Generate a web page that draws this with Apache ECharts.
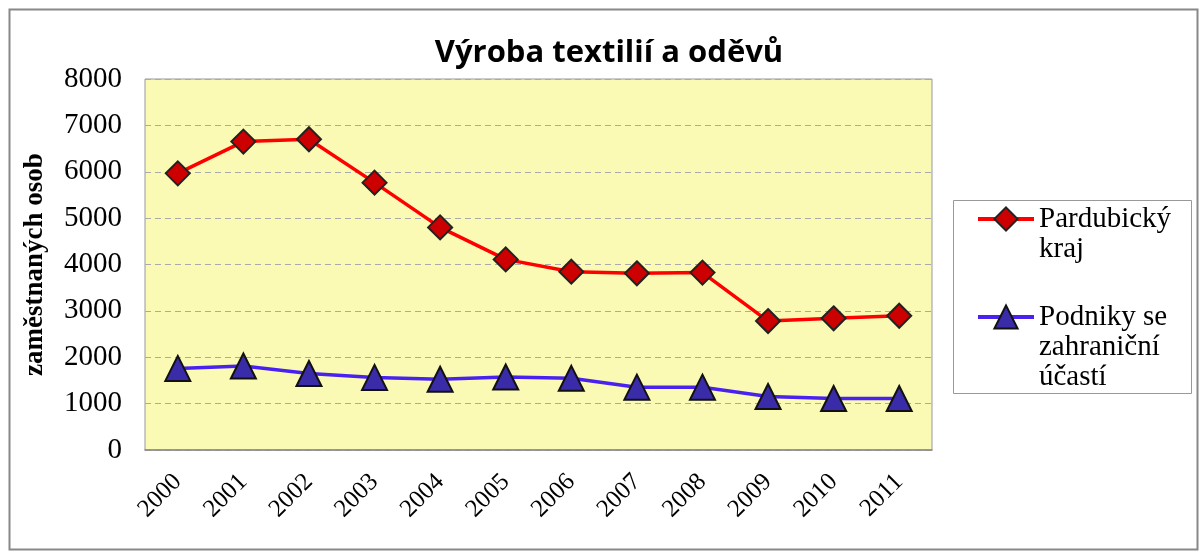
<!DOCTYPE html>
<html><head><meta charset="utf-8">
<script src="https://cdn.jsdelivr.net/npm/echarts@6/dist/echarts.min.js"></script>
<style>html,body{margin:0;padding:0;background:#fff}#c{width:1203px;height:553px}</style>
</head><body><div id="c"></div>
<script>
var years = ['2000','2001','2002','2003','2004','2005','2006','2007','2008','2009','2010','2011'];
var pardubicky = [5965, 6650, 6700, 5765, 4800, 4110, 3845, 3810, 3825, 2780, 2840, 2895];
var podniky = [1760, 1810, 1650, 1565, 1525, 1575, 1545, 1355, 1355, 1155, 1110, 1110];
var yTicks = [0, 1000, 2000, 3000, 4000, 5000, 6000, 7000, 8000];
var seriesNames = ['Pardubický\nkraj', 'Podniky se\nzahraniční\núčastí'];

function legendFor(idx, top) {
  var nLines = seriesNames[idx].split('\n').length;
  var pad = new Array(nLines).join('\n'); // blank lines above so icon aligns with first line
  return {
    orient: 'vertical', left: 976, top: top, padding: 0,
    itemWidth: 56, itemHeight: 29,
    data: [seriesNames[idx]],
    formatter: function (name) { return pad + name; },
    lineStyle: {width: 4},
    itemStyle: {borderWidth: 2},
    textStyle: {fontFamily: 'Liberation Serif', fontSize: 29, color: '#000', lineHeight: 30}
  };
}

var chart = echarts.init(document.getElementById('c'), null, {renderer:'canvas'});
chart.setOption({
  backgroundColor: '#ffffff',
  animation: false,
  title: {
    text: 'Výroba textilií a oděvů',
    left: 604, top: 33, textAlign: 'center',
    textStyle: {fontFamily: 'Open Sans', fontWeight: 'bold', fontSize: 31, color: '#000'}
  },
  graphic: [{
    type: 'rect', left: 7, top: 7, shape: {width: 1188, height: 540},
    style: {fill: 'none', stroke: '#888', lineWidth: 2}, silent: true, z: -1
  }, {
    type: 'rect', left: 953, top: 200, shape: {width: 238, height: 193},
    style: {fill: '#fff', stroke: '#999', lineWidth: 1}, silent: true, z: 0
  }],
  legend: [legendFor(0, 219 - 45), legendFor(1, 317 - 75)],
  grid: {left: 145, right: 271, top: 79, bottom: 103, show: true,
    backgroundColor: '#FAFAB4', borderColor: '#999', borderWidth: 1},
  xAxis: {
    type: 'category', data: years, boundaryGap: true,
    axisLine: {lineStyle: {color: '#888', width: 1.5}},
    axisTick: {inside: true, length: 7, lineStyle: {color: '#888'}},
    axisLabel: {rotate: 45, margin: 28, fontFamily: 'Liberation Serif', fontSize: 25, color: '#000'}
  },
  yAxis: {
    type: 'value', min: yTicks[0], max: yTicks[yTicks.length-1], interval: 1000,
    name: 'zaměstnaných osob', nameLocation: 'middle', nameGap: 96,
    nameTextStyle: {fontFamily: 'Liberation Serif', fontWeight: 'bold', fontSize: 27, color: '#000'},
    axisLine: {show: false}, axisTick: {show: false},
    axisLabel: {fontFamily: 'Liberation Serif', fontSize: 29, color: '#000', margin: 23,
      formatter: function (v) { return String(v); }},
    splitLine: {lineStyle: {color: '#aaa', type: [6, 4], width: 1}}
  },
  series: [{
    name: seriesNames[0], type: 'line', data: pardubicky,
    symbol: 'diamond', symbolSize: 24,
    lineStyle: {color: '#FF0000', width: 3.5},
    itemStyle: {color: '#CC0000', borderColor: '#222', borderWidth: 2}
  }, {
    name: seriesNames[1], type: 'line', data: podniky,
    symbol: 'triangle', symbolSize: 25,
    lineStyle: {color: '#4A22F0', width: 3.5},
    itemStyle: {color: '#3A2BA8', borderColor: '#111', borderWidth: 2}
  }]
});
</script></body></html>
